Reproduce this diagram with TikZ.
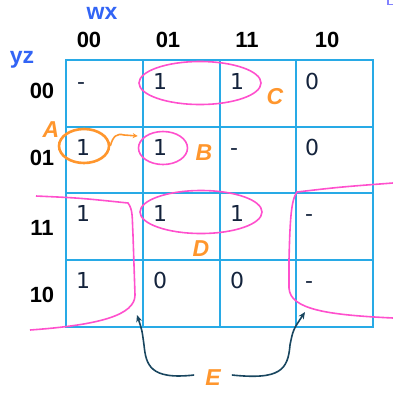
\documentclass[tikz,border=0pt]{standalone}
\usepackage{fontspec}
\setmainfont{DejaVu Sans}
\newfontfamily\hdrfont{Liberation Sans}
\usetikzlibrary{shapes.geometric,arrows.meta}
\definecolor{gridblue}{RGB}{40,170,230}
\definecolor{valcol}{RGB}{20,35,60}
\definecolor{hdrblue}{RGB}{50,100,245}
\definecolor{pinkc}{RGB}{255,80,205}
\definecolor{orangec}{RGB}{255,150,45}
\definecolor{darkc}{RGB}{25,70,95}
\definecolor{lavc}{RGB}{130,130,255}
\tikzset{
  val/.style={anchor=base west,inner sep=0pt,text=valcol,font=\fontsize{22}{26}\selectfont},
  hdr/.style={inner sep=0pt,font=\hdrfont\bfseries\fontsize{22}{26}\selectfont},
  varlbl/.style={inner sep=0pt,text=hdrblue,font=\hdrfont\bfseries\fontsize{23}{27}\selectfont},
  grplbl/.style={inner sep=0pt,text=orangec,font=\hdrfont\bfseries\itshape\fontsize{23}{27}\selectfont},
  loop/.style={ellipse,draw=pinkc,line width=1.6pt,inner sep=0pt},
  darrow/.style={draw=darkc,line width=1.6pt,-{Stealth[length=7pt,width=6pt]}},
  ecurve/.style={draw=pinkc,line width=1.6pt}
}
\begin{document}
\begin{tikzpicture}[x=1pt,y=-1pt]
\useasboundingbox (0,0) rectangle (393,392);
% grid
\draw[gridblue,line width=1.5pt] (66,60) rectangle (373,327);
\foreach \x in {143,220,296} \draw[gridblue,line width=1.5pt] (\x,60) -- (\x,327);
\foreach \y in {127,193,260} \draw[gridblue,line width=1.5pt] (66,\y) -- (373,\y);
% headers
\node[varlbl] (wx) at (102,13) {wx};
\node[varlbl] (yz) at (22,60) {yz};
\node[hdr] (c00) at (89,40) {00};
\node[hdr] (c01) at (168,40) {01};
\node[hdr] (c11) at (247,40) {11};
\node[hdr] (c10) at (327,40) {10};
\node[hdr] (r00) at (42,91) {00};
\node[hdr] (r01) at (42,158) {01};
\node[hdr] (r11) at (42,228) {11};
\node[hdr] (r10) at (42,295) {10};
% values
\node[val] (v11) at (77,89) {-};
\node[val] (v12) at (153,89) {1};
\node[val] (v13) at (230,89) {1};
\node[val] (v14) at (305,89) {0};
\node[val] (v21) at (76,155) {1};
\node[val] (v22) at (153,155) {1};
\node[val] (v23) at (230,155) {-};
\node[val] (v24) at (305,155) {0};
\node[val] (v31) at (76,221) {1};
\node[val] (v32) at (153,221) {1};
\node[val] (v33) at (230,221) {1};
\node[val] (v34) at (305,221) {-};
\node[val] (v41) at (76,288) {1};
\node[val] (v42) at (153,288) {0};
\node[val] (v43) at (230,288) {0};
\node[val] (v44) at (305,288) {-};
% loops
\node[loop,minimum width=122pt,minimum height=43pt] (lc) at (200,83) {};
\node[loop,minimum width=122pt,minimum height=43pt] (ld) at (201,212) {};
\node[loop,minimum width=49pt,minimum height=33pt] (lb) at (163,148) {};
\node[ellipse,draw=orangec,line width=2.6pt,inner sep=0pt,minimum width=50pt,minimum height=34pt] (la) at (84,146) {};
% orange small arrow
\draw[orangec,line width=1.6pt,-{Stealth[length=5pt,width=5pt]}] (la.east) .. controls (113,136) and (117,133) .. (124,135) -- (lb.west |- 0,136);
% group labels
\node[grplbl] (A) at (51,130) {A};
\node[grplbl] (B) at (204,153) {B};
\node[grplbl] (C) at (275,97) {C};
\node[grplbl] (D) at (201,249) {D};
\node[grplbl] (E) at (213,378) {E};
% E curves
\draw[ecurve] (36,196) .. controls (80,198) .. (128,203) .. controls (133,210) and (132,216) .. (133,235) -- (135,295) .. controls (135,315) and (100,325) .. (30,330);
\draw[ecurve] (393,183) .. controls (340,187) .. (297,192) .. controls (291,200) and (290,220) .. (289,260) -- (289,288) .. controls (290,310) and (330,315) .. (393,318);
% dark arrows
\coordinate (tl) at (137,315);
\coordinate (tr) at (305,312);
\draw[darrow] ([xshift=-11pt,yshift=3pt]E.west) .. controls (150,380) and (146,365) .. (144,345) .. controls (142,330) .. (tl);
\draw[darrow] ([xshift=11pt,yshift=3pt]E.east) .. controls (280,380) and (288,370) .. (290,345) .. controls (293,330) .. (tr);
% corner mark
\draw[lavc,line width=1.5pt] (388,0) -- (388,4.5) -- (393,4.5);
\end{tikzpicture}
\end{document}
